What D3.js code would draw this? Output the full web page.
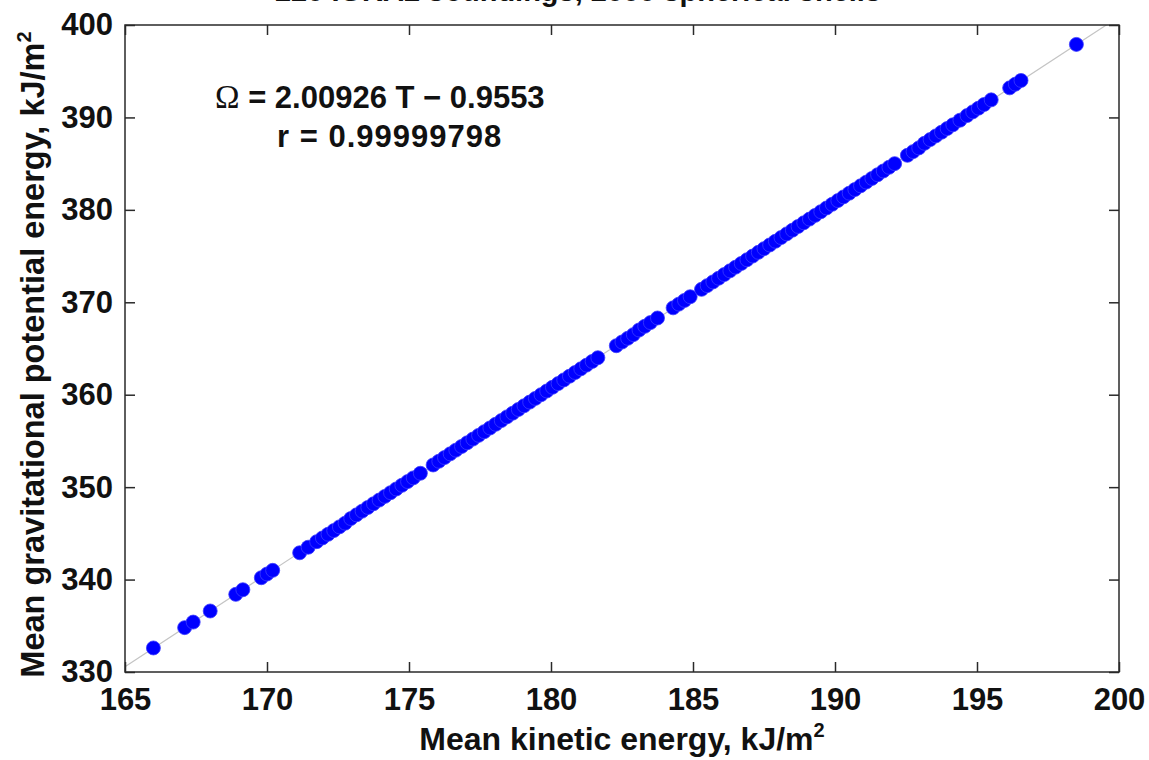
<!DOCTYPE html>
<html>
<head>
<meta charset="utf-8">
<script src="https://cdn.jsdelivr.net/npm/d3@7/dist/d3.min.js"></script>
<style>
  body { margin: 0; background: #fff; }
  text { font-family: "Liberation Sans", Arial, sans-serif; font-weight: bold; fill: #111; }
</style>
</head>
<body>
<svg id="chart" width="1149" height="760"></svg>
<script>
// mean kinetic energy T (kJ/m2), one value per sounding
var kinetic = [
  166.0, 167.1, 167.4, 168.0, 168.9, 169.15, 169.8, 170.0, 170.2,
  171.15, 171.45, 171.75, 171.95, 172.15, 172.35, 172.55, 172.75, 172.95,
  173.15, 173.35, 173.55, 173.75, 173.95, 174.15, 174.35, 174.55, 174.75, 174.95, 175.15, 175.4,
  175.85, 176.05, 176.25, 176.45, 176.65, 176.85, 177.05, 177.25, 177.45, 177.65,
  177.85, 178.05, 178.25, 178.45, 178.65, 178.85, 179.05, 179.25, 179.45, 179.65,
  179.85, 180.05, 180.25, 180.45, 180.65, 180.85, 181.05, 181.25, 181.45, 181.65,
  182.3, 182.5, 182.7, 182.9, 183.1, 183.3, 183.5, 183.75,
  184.3, 184.5, 184.7, 184.9,
  185.3, 185.5, 185.7, 185.9, 186.1, 186.3, 186.5, 186.7, 186.9, 187.1,
  187.3, 187.5, 187.7, 187.9, 188.1, 188.3, 188.5, 188.7, 188.9, 189.1,
  189.3, 189.5, 189.7, 189.9, 190.1, 190.3, 190.5, 190.7, 190.9, 191.1,
  191.3, 191.5, 191.7, 191.9, 192.1,
  192.55, 192.75, 192.95, 193.15, 193.35, 193.55, 193.75, 193.95, 194.15, 194.4,
  194.65, 194.85, 195.05, 195.25, 195.5,
  196.15, 196.35, 196.55,
  198.5
];

// mean gravitational potential energy Omega (kJ/m2), same order
var potential = [
  332.6, 334.8, 335.4, 336.6, 338.4, 338.9, 340.2, 340.6, 341.0,
  342.9, 343.5, 344.1, 344.5, 344.9, 345.3, 345.7, 346.1, 346.6,
  347.0, 347.4, 347.8, 348.2, 348.6, 349.0, 349.4, 349.8, 350.2, 350.6, 351.0, 351.5,
  352.4, 352.8, 353.2, 353.6, 354.0, 354.4, 354.8, 355.2, 355.6, 356.0,
  356.4, 356.8, 357.2, 357.6, 358.0, 358.4, 358.8, 359.2, 359.6, 360.0,
  360.4, 360.8, 361.2, 361.6, 362.0, 362.4, 362.8, 363.2, 363.6, 364.0,
  365.3, 365.7, 366.1, 366.5, 367.0, 367.4, 367.8, 368.3,
  369.4, 369.8, 370.2, 370.6,
  371.4, 371.8, 372.2, 372.6, 373.0, 373.4, 373.8, 374.2, 374.6, 375.0,
  375.4, 375.8, 376.2, 376.6, 377.0, 377.4, 377.8, 378.2, 378.6, 379.0,
  379.4, 379.8, 380.2, 380.6, 381.0, 381.4, 381.8, 382.2, 382.6, 383.0,
  383.4, 383.8, 384.2, 384.6, 385.0,
  385.9, 386.3, 386.7, 387.2, 387.6, 388.0, 388.4, 388.8, 389.2, 389.7,
  390.2, 390.6, 391.0, 391.4, 391.9,
  393.2, 393.6, 394.0,
  397.9
];

var xTicks = [165, 170, 175, 180, 185, 190, 195, 200];
var yTicks = [330, 340, 350, 360, 370, 380, 390, 400];

// regression printed on the chart
var fitSlope = 2.00926,
  fitIntercept = -0.9553,
  fitR = "0.99999798";

var titleText = "220 IGRA2 soundings, 2000 spherical shells";

var margin = {top: 25, right: 30, bottom: 88, left: 125},
  width = 1149,
  height = 760,
  innerWidth = width - margin.left - margin.right,
  innerHeight = height - margin.top - margin.bottom;

var svg = d3.select("#chart");

var xScale = d3.scaleLinear().domain([165, 200]).range([0, innerWidth]);
var yScale = d3.scaleLinear().domain([330, 400]).range([innerHeight, 0]);

var g = svg.append("g").attr("transform", "translate(" + margin.left + "," + margin.top + ")");

g.append("clipPath").attr("id", "plotclip")
  .append("rect").attr("width", innerWidth).attr("height", innerHeight);

// fit line
var x0 = xScale.domain()[0], x1 = xScale.domain()[1];
g.append("line")
    .attr("clip-path", "url(#plotclip)")
    .attr("x1", xScale(x0)).attr("y1", yScale(fitSlope * x0 + fitIntercept))
    .attr("x2", xScale(x1)).attr("y2", yScale(fitSlope * x1 + fitIntercept))
    .attr("stroke", "#c4c4c4")
    .attr("stroke-width", 1.2);

// points
g.selectAll("circle.pt")
  .data(d3.zip(kinetic, potential))
  .enter().append("circle")
    .attr("class", "pt")
    .attr("cx", function (d) { return xScale(d[0]); })
    .attr("cy", function (d) { return yScale(d[1]); })
    .attr("r", 7)
    .attr("fill", "#0000ff")
    .attr("stroke", "#3b3bff")
    .attr("stroke-width", 0.8);

// axes, ticks pointing inward on all four sides
var tickLen = 10;
var axisStyle = function (sel) {
  sel.select(".domain").remove();
  sel.selectAll(".tick line").attr("stroke", "#2a2a2a").attr("stroke-width", 1.5);
  sel.selectAll(".tick text").style("font-size", "31px").attr("fill", "#111");
};

g.append("g")
    .attr("transform", "translate(0," + innerHeight + ")")
    .call(d3.axisBottom(xScale).tickValues(xTicks).tickSize(-tickLen).tickPadding(16).tickFormat(d3.format("d")))
    .call(axisStyle);

g.append("g")
    .call(d3.axisTop(xScale).tickValues(xTicks).tickSize(-tickLen))
    .call(axisStyle)
    .selectAll(".tick text").remove();

g.append("g")
    .call(d3.axisLeft(yScale).tickValues(yTicks).tickSize(-tickLen).tickPadding(12).tickFormat(d3.format("d")))
    .call(axisStyle);

g.append("g")
    .attr("transform", "translate(" + innerWidth + ",0)")
    .call(d3.axisRight(yScale).tickValues(yTicks).tickSize(-tickLen))
    .call(axisStyle)
    .selectAll(".tick text").remove();

// box
g.append("rect")
    .attr("width", innerWidth)
    .attr("height", innerHeight)
    .attr("fill", "none")
    .attr("stroke", "#2a2a2a")
    .attr("stroke-width", 1.5);

// title, mostly above the top edge
svg.append("text")
    .attr("x", 578)
    .attr("y", 1)
    .attr("text-anchor", "middle")
    .style("font-size", "29px")
    .text(titleText);

// axis labels
var xl = svg.append("text")
    .attr("x", margin.left + innerWidth / 2)
    .attr("y", 750)
    .attr("text-anchor", "middle")
    .style("font-size", "32px")
    .text("Mean kinetic energy, kJ/m");
xl.append("tspan").attr("dy", -13).style("font-size", "20px").text("2");

var yl = svg.append("text")
    .attr("transform", "translate(44," + (margin.top + innerHeight / 2 + 6) + ") rotate(-90)")
    .attr("text-anchor", "middle")
    .style("font-size", "32.5px")
    .text("Mean gravitational potential energy, kJ/m");
yl.append("tspan").attr("dy", -13).style("font-size", "20px").text("2");

// regression annotation
var ann = svg.append("text").style("font-size", "31px");
var l1 = ann.append("tspan").attr("x", 215).attr("y", 108);
l1.append("tspan")
    .style("font-family", "'Liberation Serif', 'DejaVu Serif', serif")
    .style("font-weight", "normal")
    .style("font-size", "33px")
    .text("\u03A9");
l1.append("tspan").text(" = " + fitSlope + " T \u2212 " + Math.abs(fitIntercept));
ann.append("tspan").attr("x", 277).attr("y", 147)
    .style("letter-spacing", "1px")
    .text("r = " + fitR);
</script>
</body>
</html>
